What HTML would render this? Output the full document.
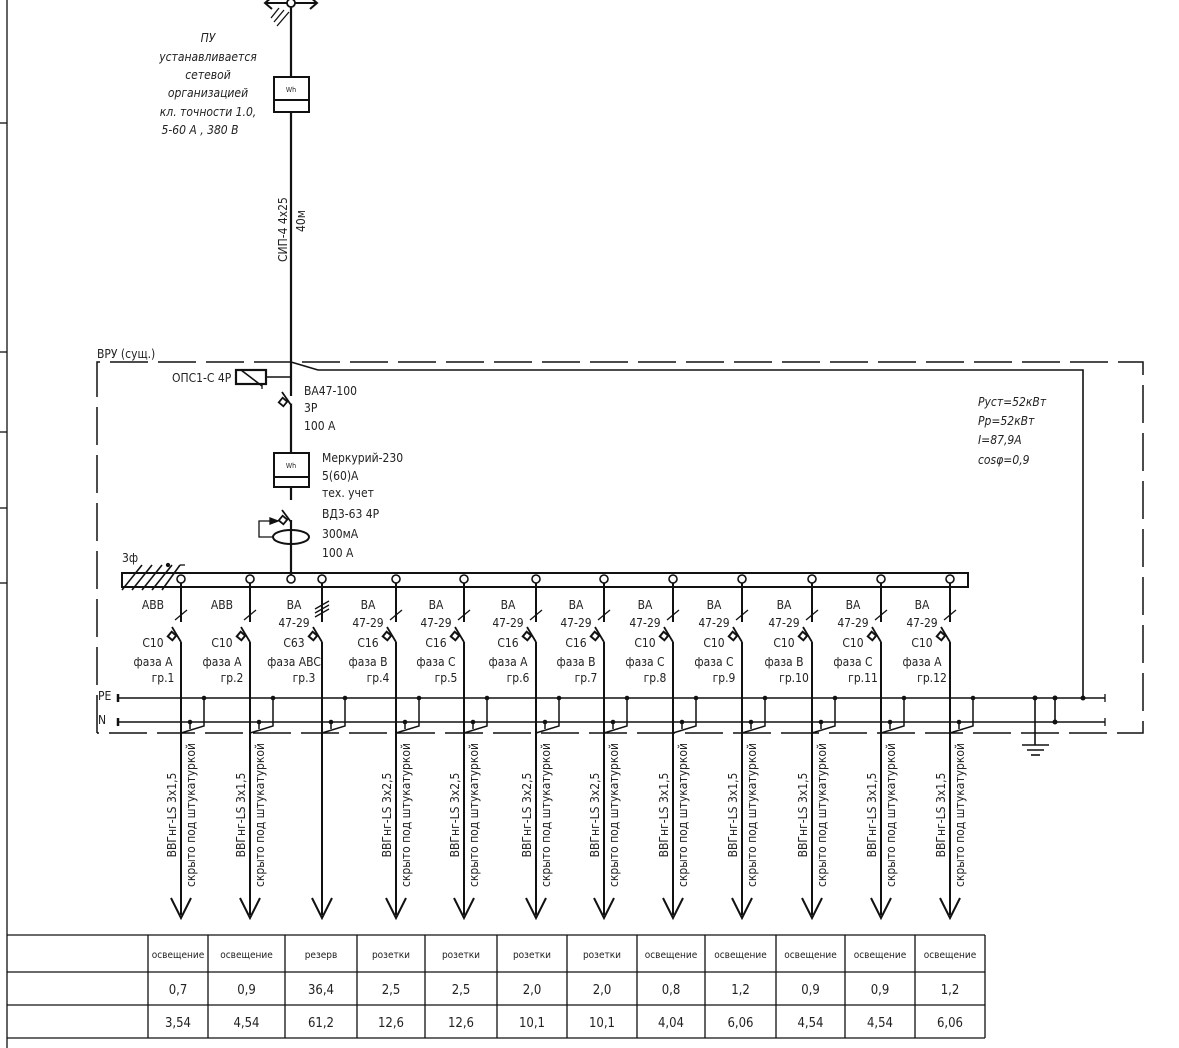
<!DOCTYPE html>
<html><head><meta charset="utf-8"><style>
body{margin:0;background:#fff}
svg{display:block}
text{font-family:"DejaVu Sans Condensed","Liberation Sans Narrow","Liberation Sans",sans-serif;fill:#222}
</style></head><body>
<svg width="1179" height="1048" viewBox="0 0 1179 1048" xmlns="http://www.w3.org/2000/svg">
<g stroke="#111" fill="none" stroke-width="1.3">
<!-- left border -->
<line x1="7" y1="0" x2="7" y2="1048"/>
<line x1="0" y1="123" x2="7" y2="123"/><line x1="0" y1="352" x2="7" y2="352"/><line x1="0" y1="432" x2="7" y2="432"/><line x1="0" y1="508" x2="7" y2="508"/><line x1="0" y1="583" x2="7" y2="583"/>
<!-- main line -->
<line x1="291" y1="0" x2="291" y2="576" stroke-width="2.2"/>
<line x1="266" y1="3" x2="316" y2="3" stroke-width="2"/>
<polyline points="272,-3 265,3 272,9" stroke-width="2"/><polyline points="310,-3 317,3 310,9" stroke-width="2"/>
<circle cx="291" cy="3" r="4" fill="#fff" stroke-width="1.8"/>
<line x1="271" y1="18" x2="279" y2="8"/><line x1="274" y1="22" x2="284" y2="10"/><line x1="277" y1="26" x2="289" y2="12"/>
<rect x="274" y="77" width="35" height="35" fill="#fff" stroke-width="2"/><line x1="274" y1="100" x2="309" y2="100" stroke-width="2"/>
<!-- dashed box -->
<polyline points="97,733 97,362 1143,362 1143,733 97,733" stroke-dasharray="38,10" stroke-width="1.5"/>
<polyline points="291,362 318,370 1083,370 1083,698" stroke-width="1.6"/>
<!-- OPS -->
<rect x="236" y="370" width="30" height="14" stroke-width="2.2" fill="#fff"/><line x1="266" y1="377" x2="291" y2="377" stroke-width="1.6"/>
<line x1="241" y1="370" x2="262" y2="386" stroke-width="1.6"/><line x1="262" y1="384" x2="262" y2="389"/>
<!-- VA47-100 -->
<polyline points="291,396 291,402 282,412" stroke="#fff" stroke-width="3"/>
<line x1="282" y1="392" x2="291" y2="405" stroke-width="1.8"/>
<rect x="280" y="399" width="6" height="6" transform="rotate(40 283 402)" stroke-width="1.8" fill="#fff"/>
<!-- meter 2 -->
<rect x="274" y="453" width="35" height="34" fill="#fff" stroke-width="2"/><line x1="274" y1="477" x2="309" y2="477" stroke-width="2"/>
<!-- VD3 -->
<line x1="291" y1="500" x2="291" y2="520" stroke="#fff" stroke-width="3"/>
<line x1="282" y1="510" x2="291" y2="522" stroke-width="1.8"/>
<rect x="280" y="517" width="6" height="6" transform="rotate(40 283 520)" stroke-width="1.8" fill="#fff"/>
<polyline points="278,521 259,521 259,537 273,537" stroke-width="1.3"/>
<polygon points="270,518 278,521 270,524" fill="#111"/>
<ellipse cx="291" cy="537" rx="18" ry="7" stroke-width="2"/>
<!-- busbar -->
<rect x="122" y="573" width="846" height="14" stroke-width="2"/>
<g stroke-width="1.6"><line x1="122" y1="590" x2="142" y2="565"/><line x1="132" y1="590" x2="152" y2="565"/><line x1="142" y1="590" x2="162" y2="565"/><line x1="152" y1="590" x2="172" y2="565"/><line x1="162" y1="590" x2="180" y2="565"/></g>
<circle cx="168" cy="565" r="1.5" fill="#111"/>
<line x1="180" y1="565" x2="185" y2="565"/>
<circle cx="291" cy="579" r="4" fill="#fff" stroke-width="1.6"/>
<!-- PE N -->
<line x1="118" y1="698" x2="1105" y2="698" stroke-width="1.6"/>
<line x1="118" y1="722" x2="1105" y2="722" stroke-width="1.6"/>
<line x1="118" y1="694" x2="118" y2="702" stroke-width="2.5"/><line x1="118" y1="718" x2="118" y2="726" stroke-width="2.5"/>
<line x1="1105" y1="694" x2="1105" y2="702"/><line x1="1105" y1="718" x2="1105" y2="726"/>
<line x1="1035" y1="698" x2="1035" y2="745" stroke-width="1.6"/><line x1="1055" y1="698" x2="1055" y2="722" stroke-width="1.6"/>
<line x1="1022" y1="745" x2="1049" y2="745" stroke-width="1.6"/><line x1="1027" y1="750" x2="1044" y2="750" stroke-width="1.6"/><line x1="1031" y1="755" x2="1040" y2="755" stroke-width="1.6"/>
</g>
<g fill="#111"><circle cx="1035" cy="698" r="2.5"/><circle cx="1055" cy="698" r="2.5"/><circle cx="1055" cy="722" r="2.5"/><circle cx="1083" cy="698" r="2.5"/></g>

<g id="feeders" stroke="#111" fill="none" stroke-width="2"></g>

<!-- texts -->
<g font-style="italic" font-size="12" text-anchor="middle">
<text x="208" y="42">ПУ</text><text x="208" y="61">устанавливается</text><text x="208" y="79">сетевой</text><text x="208" y="97">организацией</text><text x="208" y="116">кл. точности 1.0,</text><text x="200" y="134">5-60 А , 380 В</text>
</g>
<text x="0" y="0" font-size="12" transform="translate(287,262) rotate(-90)">СИП-4 4х25</text>
<text x="0" y="0" font-size="12" transform="translate(305,232) rotate(-90)">40м</text>
<text x="291" y="92" font-size="7" text-anchor="middle">Wh</text><text x="291" y="468" font-size="7" text-anchor="middle">Wh</text>
<g font-size="12">
<text x="97" y="358">ВРУ (сущ.)</text>
<text x="172" y="382">ОПС1-С 4Р</text>
<text x="304" y="395">ВА47-100</text><text x="304" y="412">3Р</text><text x="304" y="430">100 А</text>
<text x="322" y="462">Меркурий-230</text><text x="322" y="480">5(60)А</text><text x="322" y="497">тех. учет</text>
<text x="322" y="518">ВД3-63 4Р</text><text x="322" y="538">300мА</text><text x="322" y="557">100 А</text>
<text x="122" y="562">3ф</text>
<text x="98" y="700">PE</text><text x="98" y="724">N</text>
</g>
<g font-style="italic" font-size="12">
<text x="978" y="406">Руст=52кВт</text><text x="978" y="425">Рр=52кВт</text><text x="978" y="444">I=87,9А</text><text x="978" y="464">cosφ=0,9</text>
</g>
<g id="labels" font-size="12" text-anchor="middle"></g>

<!-- table -->
<g stroke="#111" stroke-width="1.3" fill="none">
<line x1="7" y1="935" x2="985" y2="935"/><line x1="7" y1="972" x2="985" y2="972"/><line x1="7" y1="1005" x2="985" y2="1005"/><line x1="7" y1="1038" x2="985" y2="1038"/>
<g id="tcols"></g>
</g>
<g id="tt" text-anchor="middle"></g>
</svg>
<script>
var NS="http://www.w3.org/2000/svg";
function el(p,t,a,txt){var e=document.createElementNS(NS,t);for(var k in a)e.setAttribute(k,a[k]);if(txt)e.textContent=txt;document.getElementById(p).appendChild(e);return e;}
var F=[[181,"ABB","","C10","фаза A","гр.1","3х1,5"],[250,"ABB","","C10","фаза A","гр.2","3х1,5"],[322,"BA","47-29","C63","фаза ABC","гр.3",""],
[396,"BA","47-29","C16","фаза B","гр.4","3х2,5"],[464,"BA","47-29","C16","фаза C","гр.5","3х2,5"],[536,"BA","47-29","C16","фаза A","гр.6","3х2,5"],
[604,"BA","47-29","C16","фаза B","гр.7","3х2,5"],[673,"BA","47-29","C10","фаза C","гр.8","3х1,5"],[742,"BA","47-29","C10","фаза C","гр.9","3х1,5"],
[812,"BA","47-29","C10","фаза B","гр.10","3х1,5"],[881,"BA","47-29","C10","фаза C","гр.11","3х1,5"],[950,"BA","47-29","C10","фаза A","гр.12","3х1,5"]];
F.forEach(function(f){var x=f[0];
el("feeders","line",{x1:x,y1:583,x2:x,y2:622});
el("feeders","line",{x1:x,y1:642,x2:x,y2:915});
el("feeders","polyline",{points:(x-10)+",898 "+x+",918 "+(x+10)+",898"});
el("feeders","line",{x1:x-9,y1:627,x2:x,y2:642,"stroke-width":1.8});
el("feeders","rect",{x:x-12,y:633,width:6,height:6,fill:"#fff",transform:"rotate(40 "+(x-9)+" 636)"});
if(x==322){for(var i=0;i<3;i++)el("feeders","line",{x1:x-7,y1:617-i*4,x2:x+7,y2:609-i*4,"stroke-width":1.3});}
else el("feeders","line",{x1:x-6,y1:620,x2:x+6,y2:610,"stroke-width":1.3});
el("feeders","circle",{cx:x,cy:579,r:4,fill:"#fff","stroke-width":1.6});
el("feeders","polyline",{points:(x+23)+",698 "+(x+23)+",726 "+x+",733","stroke-width":1.5});
el("feeders","line",{x1:x+9,y1:722,x2:x+9,y2:729,"stroke-width":1.5});
el("feeders","circle",{cx:x+23,cy:698,r:2.3,fill:"#111",stroke:"none"});
el("feeders","circle",{cx:x+9,cy:722,r:2.3,fill:"#111",stroke:"none"});
var cx=x-28;
el("labels","text",{x:cx,y:609},f[1]);
if(f[2])el("labels","text",{x:cx,y:627},f[2]);
el("labels","text",{x:cx,y:647},f[3]);
el("labels","text",{x:cx,y:666},f[4]);
el("labels","text",{x:x-18,y:682},f[5]);
if(f[6]){el("labels","text",{x:0,y:0,transform:"translate("+(x-5)+",815) rotate(-90)"},"ВВГнг-LS "+f[6]);
el("labels","text",{x:0,y:0,transform:"translate("+(x+14)+",815) rotate(-90)"},"скрыто под штукатуркой");}
});
var C=[148,208,285,357,425,497,567,637,705,776,845,915,985];
C.forEach(function(c){el("tcols","line",{x1:c,y1:935,x2:c,y2:1038});});
var H=["освещение","освещение","резерв","розетки","розетки","розетки","розетки","освещение","освещение","освещение","освещение","освещение"];
var P=["0,7","0,9","36,4","2,5","2,5","2,0","2,0","0,8","1,2","0,9","0,9","1,2"];
var I=["3,54","4,54","61,2","12,6","12,6","10,1","10,1","4,04","6,06","4,54","4,54","6,06"];
for(var i=0;i<12;i++){var m=(C[i]+C[i+1])/2;
el("tt","text",{x:m,y:958,"font-size":10},H[i]);
el("tt","text",{x:m,y:994,"font-size":13},P[i]);
el("tt","text",{x:m,y:1027,"font-size":13},I[i]);}
</script>
</body></html>
